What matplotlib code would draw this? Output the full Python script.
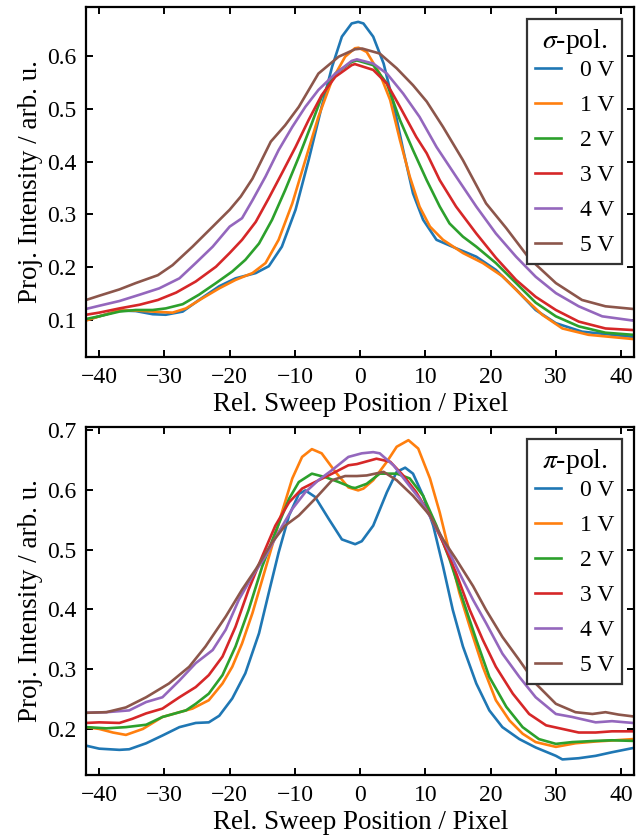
import numpy as np
import matplotlib
matplotlib.use("Agg")
import matplotlib.pyplot as plt

plt.rcParams['font.family'] = ['Liberation Serif', 'DejaVu Serif']
plt.rcParams['mathtext.fontset'] = 'stix'

labels = ['0 V', '1 V', '2 V', '3 V', '4 V', '5 V']
colors = ['#1f77b4', '#ff7f0e', '#2ca02c', '#d62728', '#9467bd', '#8c564b']

## sigma polarisation (top panel)
sig_x0 = [-42, -40, -36.9, -34.4, -31.8, -29.8, -27.2, -24.7, -21.6, -19.1, -16, -14, -12, -9.9, -7.9, -5.9, -4.3,
          -2.8, -1.3, -0.3, 0.5, 2, 3.6, 5.1, 6.6, 8.1, 9.65, 11.7, 14.7, 17.8, 20.8, 23.9, 26.9, 30, 34, 41.8, 42]
sig_y0 = [0.100, 0.107, 0.118, 0.117, 0.111, 0.110, 0.116, 0.138, 0.164, 0.179, 0.189, 0.202, 0.239, 0.309, 0.403,
          0.504, 0.580, 0.637, 0.662, 0.665, 0.662, 0.637, 0.586, 0.510, 0.422, 0.340, 0.290, 0.252, 0.236, 0.220,
          0.195, 0.158, 0.119, 0.094, 0.078, 0.068, 0.068]
sig_x1 = [-42, -40, -36.9, -34.4, -31.8, -28.75, -26.7, -24.2, -21.6, -19.1, -16.5, -14.5, -12.5, -10.4, -8.4, -6.4,
          -4.3, -2.3, -0.8, -0.25, 1, 3, 4.6, 6.1, 7.6, 9.1, 10.7, 12.7, 15.75, 18.8, 21.8, 24.9, 27.9, 31, 35, 41.8, 42]
sig_y1 = [0.099, 0.107, 0.118, 0.118, 0.116, 0.114, 0.122, 0.141, 0.160, 0.176, 0.189, 0.208, 0.252, 0.321, 0.403,
          0.485, 0.555, 0.599, 0.615, 0.616, 0.608, 0.567, 0.517, 0.441, 0.372, 0.315, 0.277, 0.252, 0.227, 0.208,
          0.183, 0.145, 0.110, 0.084, 0.072, 0.064, 0.064]
sig_x2 = [-42, -40, -36.9, -34.4, -31.8, -29.8, -27.2, -24.7, -22.1, -19.6, -17.6, -15.5, -13.5, -11.5, -9.4, -7.4,
          -5.9, -3.8, -1.3, -0.5, 2, 4.1, 6.1, 8.1, 10.2, 12.2, 13.7, 15.75, 17.8, 20.8, 23.9, 26.9, 30, 33.5, 37.6,
          41.8, 42]
sig_y2 = [0.102, 0.107, 0.116, 0.119, 0.119, 0.122, 0.130, 0.148, 0.170, 0.192, 0.214, 0.245, 0.290, 0.346, 0.409,
          0.473, 0.523, 0.567, 0.589, 0.592, 0.583, 0.548, 0.479, 0.422, 0.365, 0.315, 0.283, 0.258, 0.239, 0.208,
          0.170, 0.133, 0.107, 0.088, 0.076, 0.072, 0.072]
sig_x3 = [-42, -40, -36.9, -33.8, -31, -28.2, -25.2, -22.1, -20, -18.1, -16, -14, -12, -9.9, -7.9, -5.9, -3.8, -1.3,
          -0.8, 2, 4.1, 6.1, 8.6, 10.2, 12.2, 14.7, 17.8, 20.8, 23.9, 26.9, 30, 33.5, 37.6, 41.8, 42]
sig_y3 = [0.110, 0.114, 0.122, 0.129, 0.138, 0.152, 0.173, 0.201, 0.227, 0.252, 0.286, 0.331, 0.378, 0.428, 0.479,
          0.526, 0.561, 0.583, 0.585, 0.574, 0.548, 0.504, 0.447, 0.416, 0.365, 0.315, 0.264, 0.218, 0.176, 0.144,
          0.119, 0.097, 0.084, 0.081, 0.081]
sig_x4 = [-42, -40, -36.9, -33.8, -30.8, -27.7, -25.2, -22.6, -20, -18.1, -16.5, -14.5, -12.5, -10.4, -8.4, -6.4,
          -3.8, -1.3, -0.5, 2, 4.1, 6.6, 9.1, 11.7, 14.7, 17.8, 20.8, 23.9, 26.9, 30, 33.5, 37.1, 41.8, 42]
sig_y4 = [0.121, 0.127, 0.136, 0.148, 0.160, 0.179, 0.208, 0.239, 0.277, 0.293, 0.327, 0.372, 0.422, 0.466, 0.504,
          0.536, 0.567, 0.591, 0.594, 0.586, 0.567, 0.529, 0.485, 0.428, 0.372, 0.315, 0.264, 0.220, 0.182, 0.151,
          0.126, 0.107, 0.099, 0.099]
sig_x5 = [-42, -40, -36.9, -34.4, -31, -28.75, -25.7, -22.6, -20, -18.3, -16.5, -13.7, -11.5, -9.4, -6.4, -3.3, -0.8,
          0.3, 3, 5.6, 8.1, 10.2, 12.7, 15.75, 19.3, 22.4, 25.9, 30, 34, 37.6, 41.8, 42]
sig_y5 = [0.138, 0.146, 0.158, 0.170, 0.185, 0.204, 0.239, 0.277, 0.309, 0.334, 0.368, 0.438, 0.469, 0.504, 0.567,
          0.599, 0.613, 0.6145, 0.605, 0.577, 0.545, 0.514, 0.466, 0.403, 0.321, 0.274, 0.217, 0.170, 0.138, 0.126,
          0.121, 0.121]

## pi polarisation (bottom panel)
pi_x0 = [-42, -40, -36.9, -35.4, -32.8, -30.3, -27.7, -25.2, -23.2, -21.6, -19.6, -17.6, -15.5, -14, -12.5, -10.9,
         -9.4, -8.4, -6.9, -4.8, -2.8, -0.76, 0.25, 2, 4.1, 5.6, 6.9, 8.1, 9.65, 11.2, 12.7, 14.2, 15.75, 17.8, 19.8,
         21.8, 24.4, 26.9, 30, 31, 33.5, 36.1, 38.6, 41.8, 42]
pi_y0 = [0.172, 0.167, 0.165, 0.166, 0.176, 0.189, 0.203, 0.210, 0.211, 0.222, 0.251, 0.293, 0.360, 0.428, 0.495,
         0.557, 0.593, 0.599, 0.588, 0.551, 0.517, 0.509, 0.514, 0.540, 0.596, 0.630, 0.637, 0.627, 0.590, 0.540,
         0.472, 0.399, 0.338, 0.276, 0.231, 0.203, 0.183, 0.169, 0.155, 0.149, 0.151, 0.155, 0.161, 0.168, 0.168]
pi_x1 = [-42, -40, -37.9, -35.9, -33.3, -30.3, -27.7, -25.7, -23.2, -21.1, -19.6, -18.1, -16.5, -15, -13.5, -12,
         -10.4, -8.9, -7.4, -5.9, -3.8, -1.8, -0.3, 0.5, 2, 4.1, 5.6, 7.4, 8.9, 10.7, 12.2, 13.7, 15.2, 16.8, 18.8,
         20.8, 22.9, 24.9, 26.9, 30, 33, 36.1, 39.1, 41.8, 42]
pi_y1 = [0.203, 0.200, 0.194, 0.190, 0.200, 0.220, 0.228, 0.234, 0.248, 0.276, 0.304, 0.343, 0.394, 0.450, 0.506,
         0.562, 0.619, 0.655, 0.668, 0.661, 0.630, 0.604, 0.599, 0.602, 0.616, 0.647, 0.672, 0.683, 0.669, 0.619,
         0.562, 0.495, 0.428, 0.371, 0.304, 0.248, 0.214, 0.192, 0.178, 0.170, 0.176, 0.179, 0.181, 0.183, 0.183]
pi_x2 = [-42, -38.9, -35.9, -32.8, -30.3, -26.7, -25.2, -23.2, -21.1, -19.1, -17.1, -15, -13, -10.9, -9.4, -7.4,
         -5.3, -3.3, -1.3, -0.76, 1, 3, 5.6, 7.6, 9.65, 11.7, 13.7, 15.75, 17.8, 19.8, 22.4, 24.9, 27.4, 30, 32.5,
         36.1, 38.6, 41.8, 42]
pi_y2 = [0.203, 0.201, 0.203, 0.207, 0.220, 0.231, 0.242, 0.259, 0.290, 0.338, 0.399, 0.472, 0.529, 0.585, 0.613,
         0.627, 0.621, 0.613, 0.604, 0.603, 0.610, 0.627, 0.627, 0.619, 0.590, 0.540, 0.484, 0.416, 0.349, 0.287,
         0.237, 0.203, 0.183, 0.175, 0.178, 0.180, 0.181, 0.180, 0.180]
pi_x3 = [-42, -40, -36.9, -34.9, -32.8, -30.3, -27.7, -25.2, -23.2, -21.1, -19.1, -17.1, -15, -13, -10.9, -8.9, -6.9,
         -4.3, -1.8, -0.5, 2.5, 4.6, 6.6, 8.6, 10.7, 12.7, 14.7, 16.8, 18.8, 20.8, 23.4, 25.9, 28.5, 31, 33.5, 36.1,
         38.6, 41.8, 42]
pi_y3 = [0.210, 0.211, 0.210, 0.217, 0.226, 0.234, 0.253, 0.270, 0.290, 0.321, 0.371, 0.433, 0.489, 0.540, 0.579,
         0.602, 0.613, 0.627, 0.641, 0.643, 0.652, 0.647, 0.624, 0.596, 0.557, 0.512, 0.461, 0.399, 0.349, 0.304,
         0.259, 0.225, 0.206, 0.200, 0.194, 0.194, 0.196, 0.196, 0.196]
pi_x4 = [-42, -38.9, -35.4, -32.8, -30.3, -27.7, -25.2, -22.6, -20.6, -18.6, -16.5, -14.5, -12.5, -10.4, -8.4, -6.4,
         -4.3, -1.8, 0.25, 2, 3, 5.1, 7.1, 9.1, 11.2, 13.2, 15.2, 17.3, 19.3, 21.8, 24.4, 26.9, 30, 32.5, 36.1, 38.6,
         41.8, 42]
pi_y4 = [0.227, 0.228, 0.231, 0.245, 0.253, 0.281, 0.310, 0.332, 0.366, 0.416, 0.456, 0.489, 0.529, 0.568, 0.596,
         0.616, 0.633, 0.655, 0.661, 0.663, 0.661, 0.641, 0.613, 0.585, 0.546, 0.506, 0.461, 0.416, 0.377, 0.326,
         0.287, 0.253, 0.225, 0.220, 0.211, 0.213, 0.210, 0.210]
pi_x5 = [-42, -38.9, -35.9, -32.8, -29.3, -26.2, -23.7, -20.6, -18.1, -16, -13.5, -11.5, -9.4, -6.9, -4.3, -2.3,
         -0.5, 1, 3.6, 5.6, 8.1, 10.7, 12.7, 14.7, 17.3, 19.3, 21.8, 24.4, 26.9, 30, 33, 35.6, 37.6, 39.6, 41.8, 42]
pi_y5 = [0.227, 0.228, 0.236, 0.253, 0.276, 0.304, 0.338, 0.388, 0.433, 0.467, 0.512, 0.540, 0.557, 0.585, 0.616,
         0.623, 0.623, 0.624, 0.630, 0.616, 0.590, 0.557, 0.517, 0.484, 0.439, 0.399, 0.354, 0.315, 0.276, 0.242,
         0.228, 0.225, 0.228, 0.224, 0.221, 0.221]

sigma = [(sig_x0, sig_y0), (sig_x1, sig_y1), (sig_x2, sig_y2), (sig_x3, sig_y3), (sig_x4, sig_y4), (sig_x5, sig_y5)]
pi = [(pi_x0, pi_y0), (pi_x1, pi_y1), (pi_x2, pi_y2), (pi_x3, pi_y3), (pi_x4, pi_y4), (pi_x5, pi_y5)]

fig = plt.figure(figsize=(6.38, 8.35), dpi=100)
ax1 = fig.add_axes([0.135, 0.5725, 0.859, 0.419])
ax2 = fig.add_axes([0.135, 0.0719, 0.859, 0.4167])

def style(ax, series, title, ylim, yticks):
  for (x, y), c, lab in zip(series, colors, labels):
    ax.plot(x, y, color=c, lw=1.9, label=lab)
  ax.set_xlim(-42, 42)
  ax.set_ylim(*ylim)
  ax.set_xticks([-40, -30, -20, -10, 0, 10, 20, 30, 40])
  ax.set_xticklabels(['\u221240', '\u221230', '\u221220', '\u221210', '0', '10', '20', '30', '40'])
  ax.set_yticks(yticks)
  ax.tick_params(direction='in', top=True, right=True, length=5, width=1.4, labelsize=17, pad=7)
  for s in ax.spines.values():
    s.set_linewidth(1.6)
  ax.set_xlabel('Rel. Sweep Position / Pixel', fontsize=19.5, labelpad=3)
  ax.set_ylabel('Proj. Intensity / arb. u.', fontsize=19.5, labelpad=3)
  leg = ax.legend(title=title, loc='upper right', fontsize=17, title_fontsize=20, fancybox=False,
                  edgecolor='#333333', framealpha=1, handlelength=1.1, handletextpad=0.8,
                  borderaxespad=0.5, labelspacing=0.57, borderpad=0.35)
  leg.get_frame().set_linewidth(1.6)
  leg._legend_box.sep = 2.5  # tighter gap under the title
  for t in leg.get_texts():
    t.set_ha('right')

style(ax1, sigma, r'$\sigma$-pol.', (0.03, 0.693), [0.1, 0.2, 0.3, 0.4, 0.5, 0.6])
style(ax2, pi, r'$\pi$-pol.', (0.123, 0.705), [0.2, 0.3, 0.4, 0.5, 0.6, 0.7])

fig.savefig('out.png', dpi=100)
